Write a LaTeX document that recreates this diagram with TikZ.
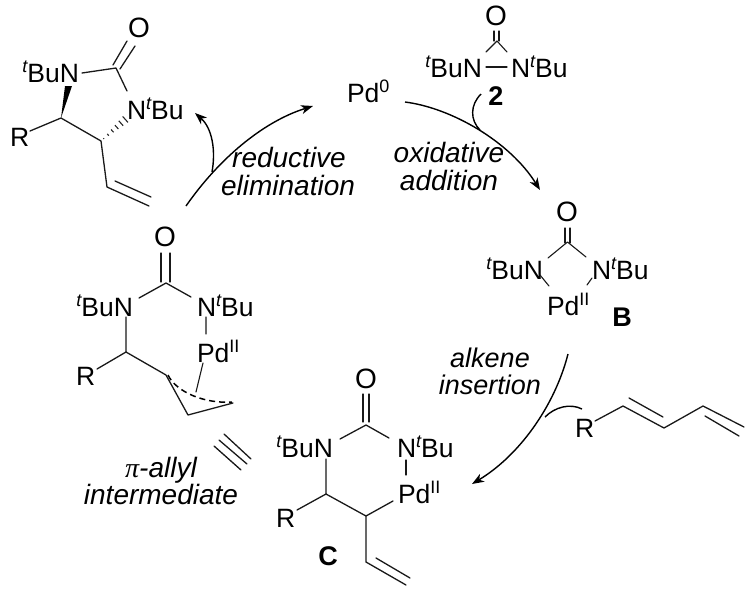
\documentclass[tikz,border=0pt]{standalone}
\usepackage{fontspec}
\setmainfont{Liberation Sans}
\newfontfamily\serifpi{Liberation Serif}
\usetikzlibrary{arrows.meta,calc}
\newcommand{\tsup}{\raisebox{9.5pt}{\fontsize{18}{18}\selectfont\itshape t}}
\newcommand{\psup}[1]{\raisebox{9.5pt}{\fontsize{18}{18}\selectfont #1}}
\tikzset{
  atom/.style={inner sep=0pt,outer sep=0pt,font=\fontsize{26.5}{26.5}\selectfont},
  atomw/.style={atom,anchor=base west},
  atome/.style={atom,anchor=base east},
  oxy/.style={atom,anchor=center,font=\fontsize{28}{28}\selectfont},
  lab/.style={inner sep=0pt,anchor=base,font=\fontsize{28}{28}\selectfont\itshape},
  lab small/.style={lab,font=\fontsize{27}{27}\selectfont\itshape},
  cmpd/.style={inner sep=0pt,anchor=base,font=\fontsize{27}{27}\selectfont\bfseries},
  bond/.style={draw=black!90,line width=1.3pt,line cap=round,line join=round},
  thin bond/.style={bond,line width=1.1pt},
  curve/.style={draw=black,line width=1.4pt},
  rxn/.style={curve,-{Stealth[length=12pt,width=9pt,inset=3.5pt]}}
}
\begin{document}
\begin{tikzpicture}[x=1pt,y=-1pt]
\useasboundingbox (0,0) rectangle (750,590);
% --- product, top left
\node[oxy] (aO) at (139,28) {O};
\node[atome] (aN1) at (79,82) {\tsup BuN};
\node[atomw] (aN2) at (127,119) {N\tsup Bu};
\node[atomw] (aR) at (10,146) {R};
\coordinate (aC) at (116,68);
\coordinate (a1) at (61,118);
\coordinate (a2) at (101,141);
\coordinate (a3) at (107,187);
\coordinate (a4) at (149,206);
\draw[bond] (113,65) -- (127,41) (120,69) -- (135,46);
\draw[bond] (82,73) -- (aC) -- (127,91);
\fill[black] (a1) -- (65,86) -- (72,86) -- cycle;
\draw[bond] (30,131) -- (a1) -- (a2) -- (a3) -- (a4);
\draw[bond] (115,181) -- (151,197);
\coordinate (ah) at (128,117);
\foreach \t/\w in {.1/.5,.26/1.2,.42/1.9,.58/2.6,.74/3.3,.9/4}
  \draw[line width=1.1pt,black!85] ($(a2)!\t!(ah)!\w pt!90:(ah)$) -- ($(a2)!\t!(ah)!\w pt!-90:(ah)$);
% --- Pd0
\node[atomw] (pd0) at (347,102) {Pd\psup{0}};
% --- reagent 2
\node[oxy] (bO) at (496,16) {O};
\node[atome] (bN1) at (482,77) {\tsup BuN};
\node[atomw] (bN2) at (511,77) {N\tsup Bu};
\node[cmpd] (two) at (496,105) {2};
\draw[thin bond] (494,31) -- (494,41) (499,31) -- (499,41);
\draw[thin bond] (486,52) -- (497,41) -- (507,52);
\draw[bond] (486,67) -- (507,67);
% --- B
\node[oxy] (cO) at (567,212) {O};
\node[atome] (cN1) at (543,279) {\tsup BuN};
\node[atomw] (cN2) at (592,279) {N\tsup Bu};
\node[atomw] (cPd) at (547,315) {Pd\psup{II}};
\node[cmpd] (B) at (622,326) {B};
\draw[thin bond] (565,228) -- (565,243) (570,228) -- (570,243);
\draw[thin bond] (548,258) -- (567.5,242) -- (586,257);
\draw[thin bond] (540,275) -- (549,286) (592,278) -- (587,285);
% --- diene
\node[atomw] (dR) at (575,437) {R};
\draw[bond] (595,421) -- (623,406) -- (664,428) -- (703,406) -- (744,427);
\draw[bond] (629,398) -- (663,417) (705,416) -- (739,436);
% --- C
\node[oxy] (eO) at (366,379) {O};
\node[atome] (eN1) at (333,457) {\tsup BuN};
\node[atomw] (eN2) at (397,457) {N\tsup Bu};
\node[atomw] (ePd) at (398,503) {Pd\psup{II}};
\node[atomw] (eR) at (276,527) {R};
\node[cmpd] (C) at (328,565) {C};
\draw[bond] (363,394) -- (363,422) (369,394) -- (369,422);
\draw[bond] (340,439) -- (366,425) -- (389,438);
\draw[bond] (406,460) -- (406,475);
\draw[bond] (326,459) -- (326,494) -- (366,516) -- (393,501);
\draw[bond] (297,510) -- (326,494);
\draw[bond] (366,516) -- (366,562) -- (406,585) (376,558) -- (410,578);
% --- pi-allyl intermediate
\node[oxy] (fO) at (165,237) {O};
\node[atome] (fN1) at (133,316) {\tsup BuN};
\node[atomw] (fN2) at (197,316) {N\tsup Bu};
\node[atomw] (fPd) at (197,362) {Pd\psup{II}};
\node[atomw] (fR) at (76,385) {R};
\draw[bond] (161,253) -- (161,282) (170,253) -- (170,282);
\draw[bond] (139,298) -- (166,283) -- (191,297);
\draw[bond] (126,317) -- (126,352) -- (166,375) -- (188,415) -- (233,403);
\draw[bond] (97,369) -- (126,352);
\draw[thin bond] (206,317) -- (206,334) (203,363) -- (196,392);
\draw[draw=black,line width=1.5pt,dash pattern=on 6pt off 4pt] (168,375) .. controls (176,392) and (205,404) .. (232,402);
% --- equivalence
\draw[bond] (224,434) -- (251,459) (219,440) -- (247,464) (214,446) -- (241,470);
% --- labels
\node[lab] (l1) at (289,167) {reductive};
\node[lab] (l2) at (288,195) {elimination};
\node[lab] (l3) at (449,162) {oxidative};
\node[lab] (l4) at (449,190) {addition};
\node[lab small] (l5) at (490,367) {alkene};
\node[lab small] (l6) at (490,394) {insertion};
\node[lab] (l7) at (161,477) {{\serifpi π}-allyl};
\node[lab] (l8) at (161,504) {intermediate};
% --- cycle arrows
\coordinate (r0) at (186,206);
\coordinate (r1) at (313,106);
\coordinate (r2) at (212,172);
\coordinate (r3) at (195,113);
\draw[rxn] (r0) .. controls (218,160) and (262,122) .. (r1);
\draw[rxn] (r2) .. controls (216,150) and (212,128) .. (r3);
\coordinate (o0) at (405,102);
\coordinate (o1) at (540,190);
\coordinate (o2) at (481,94);
\coordinate (o3) at (480,130);
\draw[rxn] (o0) .. controls (452,108) and (510,142) .. (o1);
\draw[curve] (o2) .. controls (470,105) and (470,120) .. (o3);
\coordinate (i0) at (568,354);
\coordinate (i1) at (472,484);
\coordinate (i2) at (582,409);
\coordinate (i3) at (545,417);
\draw[rxn] (i0) .. controls (555,405) and (520,455) .. (i1);
\draw[curve] (i2) .. controls (570,403) and (555,407) .. (i3);
\end{tikzpicture}
\end{document}
